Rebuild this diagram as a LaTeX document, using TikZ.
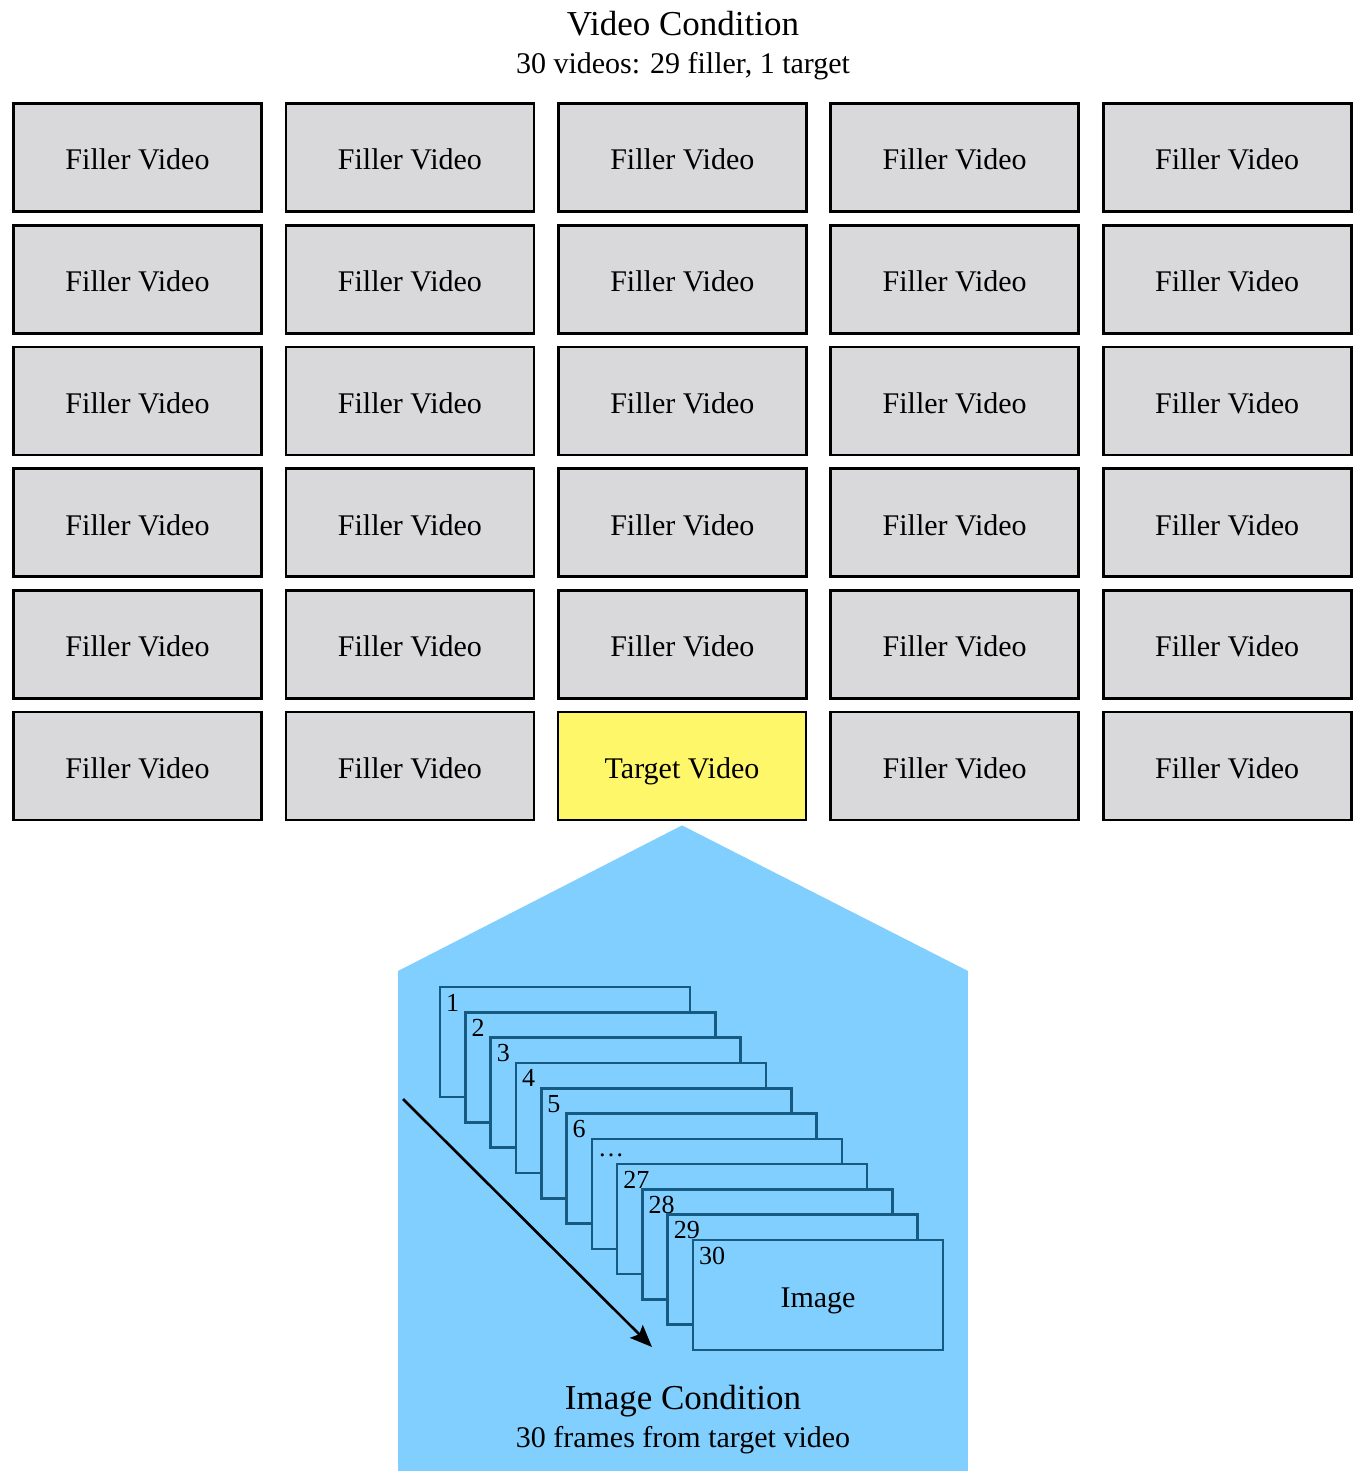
\documentclass[tikz,border=0pt]{standalone}
\usepackage{fontspec}
\setmainfont{Liberation Serif}
\usetikzlibrary{arrows.meta,calc}
\definecolor{fillgray}{RGB}{217,217,219}
\definecolor{targetyellow}{RGB}{255,247,106}
\definecolor{panelblue}{RGB}{128,207,254}
\definecolor{framestroke}{RGB}{22,90,130}
\begin{document}
\begin{tikzpicture}[x=1pt,y=-1pt,
  videobox/.style={draw=black, line width=2.8pt, minimum width=248pt, minimum height=108pt,
    inner sep=0pt, font=\fontsize{30}{30}\selectfont, text height=25pt, text depth=0pt},
  fillerbox/.style={videobox, fill=fillgray},
  targetbox/.style={videobox, fill=targetyellow},
  framebox/.style={draw=framestroke, line width=2.6pt, fill=panelblue, minimum width=250pt,
    minimum height=110pt, inner sep=0pt, outer sep=0pt, anchor=north west},
  numlabel/.style={font=\fontsize{26}{26}\selectfont, inner sep=0pt, anchor=base west},
  titletext/.style={font=\fontsize{35}{35}\selectfont, inner sep=0pt, anchor=base},
  subtext/.style={font=\fontsize{30}{30}\selectfont, inner sep=0pt, anchor=base},
  seqarrow/.style={line width=2.6pt, -{Stealth[length=22pt,width=18pt,inset=4pt]}}]

\useasboundingbox (0,0) rectangle (1358,1471);
\fill[white] (0,0) rectangle (1358,1471);

% Video condition heading
\node[titletext] (vtitle) at (683,36) {Video Condition};
\node[subtext] (vsub) at (683,74) {30 videos: 29 filler, 1 target};

% 6 x 5 grid of videos
\foreach \r in {1,...,6}
  \foreach \c in {1,...,5}{
    \pgfmathtruncatemacro\istarget{and(\r==6,\c==3)}
    \ifnum\istarget=0
      \node[fillerbox] (v-\r-\c) at ({137.5+(\c-1)*272.4},{157.5+(\r-1)*121.7}) {Filler Video};
    \fi
  }
\node[targetbox] (target) at (682,766) {Target Video};

% Expansion panel below the target video
\coordinate (apex) at ($(target.south)+(0,4)$);
\coordinate (pl) at (398,971);
\coordinate (pr) at (968,971);
\fill[panelblue] (apex) -- (pl) -- (pr) -- cycle;
\fill[panelblue] (pl) rectangle (968,1471);

% Stack of frames
\foreach \i/\lab/\dy in {1/1/24,2/2/24,3/3/24,4/4/24,5/5/24,6/6/24,7/{\ldots}/18,8/27/24,9/28/24,10/29/24,11/30/24}{
  \node[framebox] (f\i) at ({440+(\i-1)*25.3},{987+(\i-1)*25.3}) {};
  \node[numlabel] (n\i) at ($(f\i.north west)+(6,\dy)$) {\lab};
}
\node[subtext] (img) at ($(f11.center)+(0,12)$) {Image};

% Direction of the frame sequence
\coordinate (arrstart) at (403,1099);
\coordinate (arrend) at (652,1347);
\draw[seqarrow] (arrstart) -- (arrend);

% Image condition heading
\node[titletext] (ititle) at (683,1409) {Image Condition};
\node[subtext] (isub) at (683,1447) {30 frames from target video};
\end{tikzpicture}
\end{document}
